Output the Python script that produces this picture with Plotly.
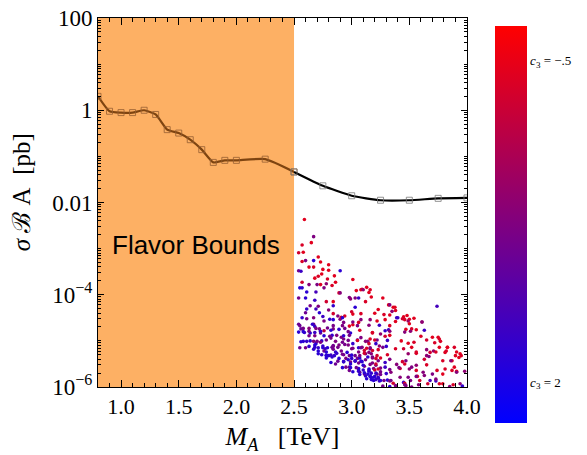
import plotly.graph_objects as go

# ---- exclusion curve (M_A in TeV, sigma*B*A in pb) ----
curve_ma = [0.8, 0.9, 1.0, 1.1, 1.2, 1.3, 1.4, 1.5, 1.6, 1.7, 1.8, 1.9, 2.0, 2.25, 2.5,
            2.75, 3.0, 3.25, 3.5, 3.75, 4.0]
curve_sigma = [2.0, 0.95, 0.89, 0.89, 1.0, 0.81, 0.38, 0.32, 0.23, 0.14, 0.074, 0.082, 0.082, 0.087, 0.046,
               0.023, 0.014, 0.0112, 0.0112, 0.0123, 0.0126]

flavor_bound_ma = 2.5

# ---- scan points: M_A [TeV], log10(sigma*B*A / pb), c3 ----
pts_ma = [2.59,2.67,2.65,2.57,2.58,2.54,2.71,2.67,2.60,2.57,2.73,2.80,2.63,2.67,2.75,2.54,2.56,2.90,2.80,2.74,
          2.71,2.85,3.01,2.68,2.79,2.57,2.86,2.63,2.70,2.73,2.78,2.55,2.57,2.76,2.83,3.13,3.08,3.16,3.09,3.10,
          2.61,2.69,2.89,2.90,3.15,3.04,3.03,2.54,2.60,2.98,2.99,3.06,3.27,3.12,3.17,2.68,2.78,2.84,3.32,3.36,
          3.38,3.23,2.64,2.71,2.61,2.69,2.80,2.84,3.00,3.03,3.74,2.60,2.72,2.84,2.88,2.94,3.01,3.08,3.20,3.33,
          3.40,2.57,2.61,2.67,2.75,2.84,2.90,2.91,3.08,3.16,3.45,3.48,3.50,3.54,3.44,3.61,3.49,2.54,2.67,2.68,
          2.79,2.93,2.98,3.01,3.24,3.33,3.22,3.29,2.56,2.58,2.63,2.72,2.76,2.84,2.94,3.29,3.32,3.33,3.47,3.52,
          3.56,3.63,2.54,2.59,2.64,2.68,2.73,2.83,2.91,2.99,3.18,3.25,3.29,3.33,3.70,3.75,3.76,3.43,2.58,2.61,
          2.64,2.69,2.74,2.82,2.84,2.93,2.97,3.05,3.14,3.22,3.21,3.15,3.49,3.54,3.52,3.65,3.72,3.76,3.83,3.89,
          2.68,2.71,2.75,2.77,2.83,2.88,3.00,3.06,3.09,3.16,3.16,3.24,3.27,3.38,3.45,3.71,3.73,3.68,3.81,3.90,
          3.94,3.95,2.71,2.74,2.78,2.80,2.82,2.87,2.93,2.98,2.95,3.00,3.05,3.07,3.12,3.17,3.18,3.31,3.33,3.49,
          3.56,3.63,3.65,3.79,3.93,2.88,2.93,2.99,3.03,3.09,3.18,3.23,3.29,3.39,3.44,3.46,3.56,3.65,3.87,3.89,
          3.87,3.91,3.98,2.92,2.98,2.98,3.06,3.06,3.11,3.15,3.21,3.25,3.29,3.33,3.34,3.42,3.50,3.56,3.63,3.74,
          3.79,3.07,3.11,3.14,3.17,3.16,3.20,3.22,3.23,3.17,3.19,3.24,3.28,3.31,3.33,3.36,3.42,3.45,3.46,3.49,
          3.57,3.59,3.68,3.73,3.76,3.79,3.88,3.94,3.96,3.27,3.33,3.38,3.47,3.58,3.52,
          2.56,2.67,2.70,2.73,2.78,2.86,2.92,2.97,3.01,3.12,2.55,2.60,2.63,2.68,2.75,2.79,2.84,2.89,2.94,3.01,
          3.08,3.11,3.13,3.18,3.23,2.67,2.71,2.76,2.78,2.84,2.86,2.91,2.96,3.06,3.11,3.15,2.78,2.85,2.92,3.00,
          3.03,3.07,3.14,3.18,3.22,2.78,2.83,2.89,2.97,3.03,3.08,3.12,3.21,3.25,2.82,2.86,2.93,2.99,3.06,3.10,
          3.16,3.21,2.95,2.99,3.04,3.10,3.15,3.19,3.23,3.01,3.06,3.11,3.15,3.20,3.21,3.25,3.07,3.12,3.16,3.19,
          3.23,3.25,3.13,3.17,3.21,3.25,
          2.76,2.81,2.92,3.01,3.06,2.55,2.66,2.84,2.92,3.05,3.15,2.58,2.63,2.69,2.73,2.82,2.89,2.97,3.07,3.18,
          2.63,2.68,2.76,2.81,2.87,2.93,2.98,3.05,3.08,3.16,3.20,
          3.33,3.375,3.35,3.28,3.38,3.39,3.46,3.50,3.51,3.46,3.31,3.30,3.60,3.61,3.77,3.83,3.91,3.82,3.65,3.56,
          3.67,3.86,3.81,3.91,3.47,3.52,3.62,3.70,3.41,3.30,3.56,3.73,3.34,3.51,3.66,3.85,3.46]
pts_log_sigma = [-2.37,-2.74,-2.87,-2.92,-3.08,-3.09,-3.18,-3.26,-3.26,-3.28,-3.29,-3.35,-3.40,-3.40,-3.45,-3.48,-3.49,-3.48,-3.47,-3.55,
                 -3.60,-3.59,-3.67,-3.64,-3.66,-3.73,-3.73,-3.78,-3.78,-3.78,-3.76,-3.85,-3.85,-3.85,-3.80,-3.84,-3.89,-3.89,-3.88,-3.89,
                 -3.94,-3.94,-3.96,-3.96,-3.95,-3.91,-4.07,-4.07,-4.07,-4.06,-4.09,-4.07,-4.07,-4.15,-4.05,-4.12,-4.15,-4.15,-4.22,-4.27,
                 -4.34,-4.32,-4.24,-4.25,-4.31,-4.31,-4.33,-4.24,-4.37,-4.27,-4.25,-4.39,-4.39,-4.41,-4.46,-4.46,-4.42,-4.41,-4.40,-4.44,
                 -4.50,-4.50,-4.52,-4.50,-4.47,-4.54,-4.53,-4.49,-4.54,-4.54,-4.48,-4.45,-4.53,-4.51,-4.52,-4.59,-4.57,-4.64,-4.64,-4.69,
                 -4.72,-4.60,-4.68,-4.65,-4.66,-4.67,-4.57,-4.54,-4.74,-4.73,-4.73,-4.74,-4.78,-4.74,-4.73,-4.78,-4.76,-4.79,-4.75,-4.74,
                 -4.76,-4.77,-4.81,-4.82,-4.83,-4.82,-4.83,-4.88,-4.92,-4.83,-4.83,-4.85,-4.90,-4.88,-4.92,-4.92,-4.96,-5.00,-5.01,-5.01,
                 -5.00,-5.06,-5.00,-4.94,-5.10,-4.96,-4.99,-4.98,-5.01,-4.98,-5.06,-5.06,-5.05,-5.03,-5.14,-4.98,-5.04,-5.14,-5.14,-5.14,
                 -5.14,-5.15,-5.15,-5.17,-5.14,-5.14,-5.17,-5.15,-5.14,-5.17,-5.15,-5.11,-5.14,-5.17,-5.17,-5.22,-5.24,-5.25,-5.25,-5.32,
                 -5.28,-5.32,-5.28,-5.30,-5.32,-5.32,-5.31,-5.27,-5.30,-5.32,-5.38,-5.38,-5.38,-5.37,-5.28,-5.28,-5.35,-5.30,-5.40,-5.28,
                 -5.27,-5.40,-5.32,-5.43,-5.36,-5.44,-5.45,-5.46,-5.43,-5.45,-5.48,-5.43,-5.47,-5.51,-5.45,-5.50,-5.53,-5.52,-5.43,-5.57,
                 -5.64,-5.66,-5.66,-5.58,-5.57,-5.64,-5.60,-5.63,-5.55,-5.63,-5.53,-5.59,-5.57,-5.62,-5.68,-5.60,-5.61,-5.64,-5.75,-5.64,
                 -5.72,-5.68,-5.72,-5.72,-5.70,-5.77,-5.77,-5.72,-5.81,-5.80,-5.86,-5.87,-5.86,-5.85,-5.87,-5.92,-5.79,-5.90,-5.92,-5.79,
                 -5.77,-5.86,-5.86,-5.87,-5.93,-5.93,-5.95,-5.93,-5.98,-5.98,-5.99,-5.97,-5.97,-5.95,-6.00,
                 -5.02,-5.01,-5.01,-5.03,-4.98,-5.01,-5.03,-5.09,-5.06,-5.01,-5.15,-5.15,-5.12,-5.09,-5.11,-5.15,-5.12,-5.09,-5.08,-5.16,
                 -5.15,-5.21,-5.16,-5.21,-5.19,-5.18,-5.22,-5.22,-5.24,-5.18,-5.24,-5.22,-5.25,-5.24,-5.27,-5.25,-5.31,-5.32,-5.29,-5.31,
                 -5.32,-5.32,-5.35,-5.37,-5.32,-5.37,-5.35,-5.38,-5.41,-5.44,-5.44,-5.41,-5.38,-5.37,-5.47,-5.50,-5.45,-5.50,-5.48,-5.53,
                 -5.51,-5.50,-5.57,-5.58,-5.58,-5.63,-5.61,-5.60,-5.61,-5.67,-5.66,-5.69,-5.66,-5.63,-5.70,-5.67,-5.73,-5.76,-5.76,-5.79,
                 -5.79,-5.73,-5.82,-5.84,-5.84,-5.86,
                 -4.57,-4.53,-4.50,-4.59,-4.60,-4.67,-4.64,-4.67,-4.67,-4.67,-4.66,-4.80,-4.79,-4.73,-4.79,-4.77,-4.75,-4.80,-4.77,-4.82,
                 -4.89,-4.89,-4.89,-4.90,-4.88,-4.89,-4.88,-4.99,-4.93,-4.96,-4.98,
                 -4.22,-4.27,-4.36,-4.43,-4.58,-4.50,-4.54,-4.63,-4.79,-4.81,-4.99,-5.12,-4.90,-4.59,-5.01,-5.14,-5.24,-5.22,-5.19,-5.24,
                 -5.34,-5.43,-5.61,-5.68,-5.43,-5.57,-5.68,-5.72,-5.58,-5.71,-5.77,-5.83,-5.86,-5.86,-5.93,-5.99,-5.95]
pts_c3 = [-0.4,0.8,-0.4,-0.3,-0.4,-0.2,-0.4,1.8,0.8,-0.3,-0.4,-0.4,-0.4,-0.3,-0.4,0.9,1.6,1.8,-0.4,-0.4,
          -0.3,-0.4,-0.4,-0.4,-0.3,-0.2,-0.4,0.7,0.8,-0.3,0.6,1.8,1.7,0.8,-0.3,-0.4,-0.4,-0.3,-0.2,0.5,
          1.8,1.5,-0.3,0.7,-0.4,-0.4,0.8,0.9,1.8,0.8,0.6,1.6,-0.4,-0.3,-0.4,1.6,-0.2,-0.4,-0.4,-0.4,
          -0.3,-0.4,0.9,0.8,1.7,1.5,0.7,1.7,-0.2,1.8,1.5,1.0,1.8,-0.2,0.8,-0.3,-0.4,-0.3,-0.4,-0.4,
          1.6,1.7,0.9,0.7,1.6,1.8,0.8,-0.2,0.7,0.6,-0.4,-0.4,-0.3,-0.4,-0.2,0.6,0.4,1.0,0.8,1.7,
          0.9,0.8,-0.3,-0.4,1.6,-0.3,-0.4,-0.4,1.1,0.9,0.7,0.8,0.0,0.8,0.9,1.7,1.5,0.7,-0.4,-0.3,
          -0.4,1.6,1.8,1.7,1.8,1.6,1.0,1.7,0.8,1.8,-0.3,0.6,-0.2,-0.4,-0.4,-0.4,-0.3,-0.4,1.8,1.7,
          1.8,1.8,1.6,0.9,1.0,0.8,0.9,1.8,0.8,0.9,1.7,-0.2,-0.4,-0.3,-0.4,-0.2,-0.3,-0.4,-0.4,-0.3,
          1.8,1.7,1.8,1.6,1.0,0.9,0.8,1.7,0.7,1.0,0.8,0.6,0.9,-0.3,-0.2,0.5,-0.3,-0.2,-0.4,-0.4,
          -0.4,-0.3,1.8,1.7,1.8,1.8,1.6,1.7,0.9,1.0,0.8,1.7,0.9,1.8,0.8,0.7,1.0,-0.3,0.8,0.5,
          -0.3,-0.2,0.6,-0.3,-0.4,1.0,1.8,0.9,1.7,1.8,0.8,0.9,1.6,0.7,-0.2,-0.3,0.6,-0.3,-0.4,-0.4,
          -0.3,-0.4,0.6,1.8,1.0,0.9,1.8,1.7,0.8,1.0,0.9,0.8,1.6,0.9,0.7,-0.2,0.6,-0.3,0.7,-0.3,
          -0.4,1.0,0.9,1.8,1.7,1.8,1.8,1.0,1.7,1.8,1.8,1.6,0.9,1.8,0.8,-0.2,0.7,1.6,-0.3,0.8,
          -0.3,-0.2,1.5,1.6,-0.3,-0.4,-0.3,0.6,1.7,0.9,1.8,0.8,0.7,0.7,0.8,
          1.8,0.8,0.9,0.8,0.9,0.8,0.9,0.8,1.7,0.7,1.0,0.9,1.7,1.8,1.7,1.8,0.9,0.8,0.9,0.8,
          0.9,-0.2,-0.3,-0.2,-0.3,1.7,1.8,1.0,1.8,0.9,1.7,0.9,1.8,0.8,-0.2,0.7,1.8,1.7,0.9,1.8,
          1.0,0.8,1.7,0.7,-0.2,1.8,1.7,1.8,1.8,1.7,1.8,0.9,-0.2,-0.3,1.8,1.0,1.7,1.8,0.9,1.8,
          0.8,-0.2,0.9,1.8,1.0,1.7,1.8,0.8,-0.2,1.8,1.7,1.8,1.8,-0.2,1.7,0.9,1.8,1.7,1.8,1.8,
          1.7,0.9,1.8,1.8,1.7,1.8,
          0.8,1.7,1.8,0.8,-0.3,1.0,1.7,0.9,0.8,0.8,0.7,1.8,0.9,0.8,1.7,1.8,1.7,0.9,-0.3,-0.3,
          0.9,0.8,1.8,0.9,0.8,1.7,0.9,-0.3,0.8,-0.3,-0.2,
          0.7,-0.4,0.6,-0.3,-0.4,1.6,-0.3,-0.4,0.6,0.7,1.6,1.7,-0.3,0.6,-0.3,-0.4,-0.4,-0.3,0.6,-0.3,
          0.7,0.6,-0.3,0.7,0.8,0.8,0.7,0.8,0.8,1.7,0.8,0.7,0.9,0.8,-0.2,0.7,0.8]

# colour bar end labels
c3_label_vals = [2, -0.5]
c3_label_text = ["<i>c</i><sub>3</sub> = 2", "<i>c</i><sub>3</sub> = \u2212.5"]

# axis ticks
x_major = [1.0, 1.5, 2.0, 2.5, 3.0, 3.5, 4.0]
y_tick_vals = [1e-6, 1e-4, 1e-2, 1, 100]
y_tick_text = ["10<sup>\u22126</sup>", "10<sup>\u22124</sup>", "0.01", "1", "100"]

# ---------------------------------------------------------------
sigma_pts = [10 ** v for v in pts_log_sigma]
neg_c3 = [-c for c in pts_c3]

in_ma = [m for m in curve_ma if m <= flavor_bound_ma]
in_sig = curve_sigma[:len(in_ma)]
out_ma = curve_ma[len(in_ma) - 1:]
out_sig = curve_sigma[len(in_ma) - 1:]

minor_vals = [n * 10 ** k for k in range(-6, 2) for n in range(1, 10) if not (n == 1 and k % 2 == 0)]

serif = "Liberation Serif, Times New Roman, serif"
NB = "\u00a0"

fig = go.Figure()

fig.add_vrect(x0=0.8, x1=flavor_bound_ma, fillcolor="#fdb064", line_width=0, layer="below")

fig.add_trace(go.Scatter(
    x=pts_ma, y=sigma_pts, mode="markers",
    marker=dict(size=3.6, color=neg_c3, cmin=-2.318, cmax=0.765,
                colorscale=[[0, "rgb(0,0,255)"], [1, "rgb(255,0,0)"]],
                line=dict(width=0),
                colorbar=dict(
                    x=1.076, xanchor="left", xpad=0,
                    y=0.44, yanchor="middle", ypad=0,
                    thickness=32, thicknessmode="pixels",
                    len=397, lenmode="pixels",
                    outlinewidth=0,
                    tickmode="array",
                    tickvals=[-v for v in c3_label_vals],
                    ticktext=c3_label_text,
                    ticks="", ticklen=0,
                    tickfont=dict(family=serif, size=13, color="black"),
                )),
    showlegend=False, hoverinfo="skip"))

fig.add_trace(go.Scatter(
    x=in_ma, y=in_sig, mode="lines+markers",
    line=dict(color="#7e4410", width=2.2, shape="spline", smoothing=0.5),
    marker=dict(symbol="square-open", size=6, color="rgba(150,95,50,0.8)", line=dict(width=1)),
    showlegend=False))
fig.add_trace(go.Scatter(
    x=out_ma, y=out_sig, mode="lines+markers",
    line=dict(color="black", width=2.2, shape="spline", smoothing=0.5),
    marker=dict(symbol="square-open", size=6, color="rgba(120,120,120,0.8)", line=dict(width=1)),
    showlegend=False))

fig.add_annotation(x=1.646, y=-2.93, xref="x", yref="y", text="Flavor Bounds",
                   showarrow=False, font=dict(family="Liberation Sans, Arial, sans-serif", size=26, color="black"))

# y-axis title placed like the reference (slightly above the axis centre)
fig.add_annotation(x=-0.2085, y=0.528, xref="paper", yref="paper", textangle=-90,
                   text=f"<i>\u03c3</i>{NB}\u212c{NB}A{NB}{NB}[pb]", showarrow=False,
                   xanchor="center", yanchor="middle",
                   font=dict(family=serif, size=25, color="black"))

fig.update_xaxes(
    range=[0.8, 4.0], showline=True, linecolor="black", linewidth=1, mirror="allticks",
    tickmode="array", tickvals=x_major, ticktext=[f"{v:.1f}" for v in x_major],
    ticks="inside", ticklen=7, tickcolor="black", tickwidth=1,
    minor=dict(dtick=0.1, tick0=0.8, ticks="inside", ticklen=4, tickcolor="black", showgrid=False),
    showgrid=False, zeroline=False, ticklabeloverflow="allow",
    tickfont=dict(family=serif, size=22, color="black"),
    title=dict(text=f"<i>M</i><sub><i>A</i></sub>{NB}{NB}{NB}[TeV]", font=dict(family=serif, size=26, color="black"), standoff=8),
)
fig.update_yaxes(
    type="log", range=[-6, 2], showline=True, linecolor="black", linewidth=1, mirror="allticks",
    tickmode="array", tickvals=y_tick_vals, ticktext=y_tick_text,
    ticks="inside", ticklen=6, tickcolor="black", tickwidth=1,
    minor=dict(tickmode="array", tickvals=minor_vals, ticks="inside", ticklen=3, tickcolor="black", showgrid=False),
    showgrid=False, zeroline=False, ticklabeloverflow="allow",
    tickfont=dict(family=serif, size=23, color="black"),
)

fig.update_layout(
    width=587, height=455,
    margin=dict(l=98, r=120, t=18, b=68, autoexpand=False),
    plot_bgcolor="white", paper_bgcolor="white",
)

# remove the browser's default page margin so the figure fills the window exactly
fig.write_html("out.html", config={"displayModeBar": False},
               post_script="document.body.style.margin='0';")
